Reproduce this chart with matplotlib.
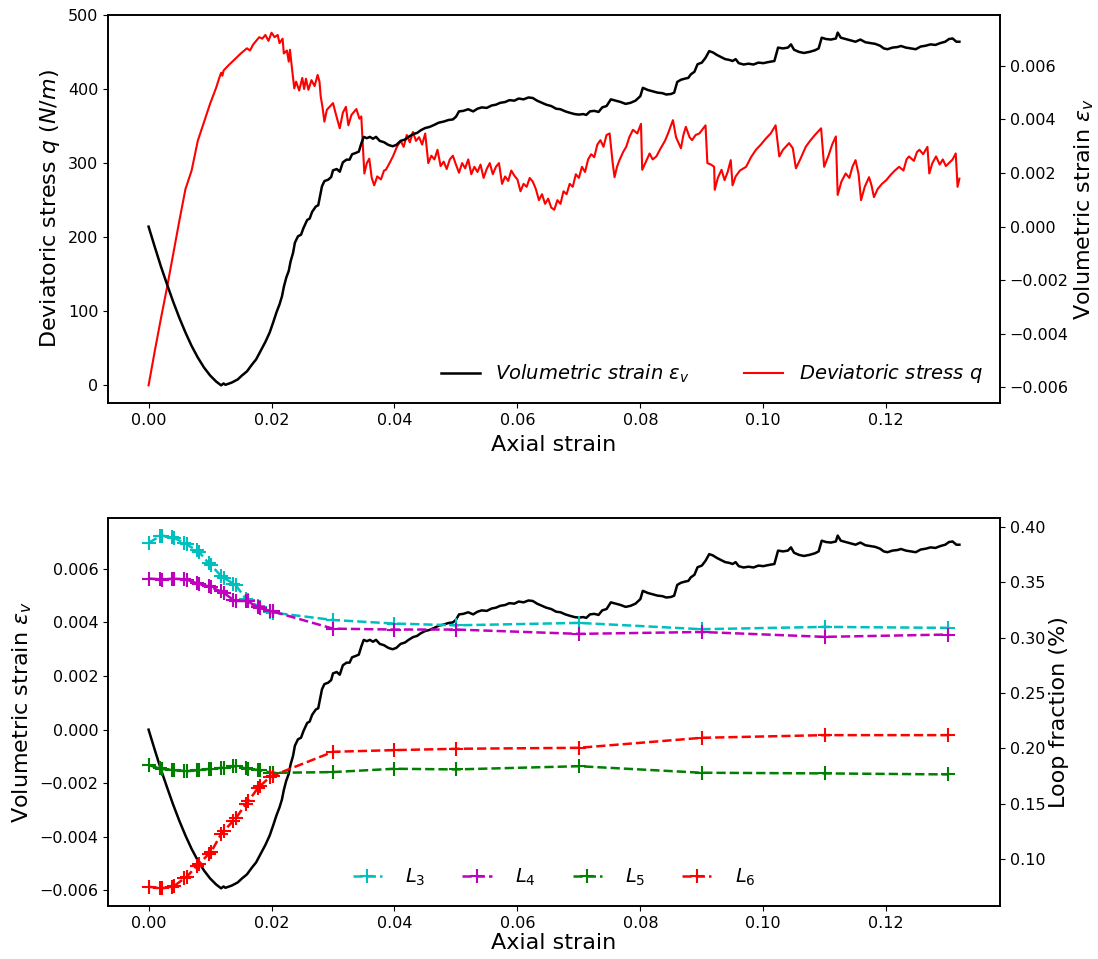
import matplotlib
matplotlib.use("Agg")
import matplotlib.pyplot as plt

# volumetric strain record (axial strain, eps_v)
vol_strain_x = [
    0.0000, 0.0010, 0.0020, 0.0030, 0.0040, 0.0050, 0.0060, 0.0070, 0.0080, 0.0090,
    0.0100, 0.0110, 0.0118, 0.0122, 0.0125, 0.0135, 0.0145, 0.0152, 0.0160, 0.0168,
    0.0175, 0.0182, 0.0190, 0.0197, 0.0203, 0.0208, 0.0213, 0.0217, 0.0220, 0.0224,
    0.0228, 0.0231, 0.0235, 0.0238, 0.0243, 0.0248, 0.0252, 0.0258, 0.0262, 0.0266,
    0.0272, 0.0276, 0.0279, 0.0282, 0.0286, 0.0292, 0.0297, 0.0300, 0.0306, 0.0311,
    0.0316, 0.0322, 0.0327, 0.0331, 0.0337, 0.0342, 0.0346, 0.0350, 0.0355, 0.0360,
    0.0365, 0.0370, 0.0376, 0.0383, 0.0390, 0.0397, 0.0403, 0.0410, 0.0417, 0.0423,
    0.0430, 0.0437, 0.0443, 0.0450, 0.0457, 0.0465, 0.0472, 0.0480, 0.0488, 0.0495,
    0.0500, 0.0505, 0.0512, 0.0520, 0.0528, 0.0535, 0.0542, 0.0550, 0.0558, 0.0565,
    0.0572, 0.0580, 0.0587, 0.0595, 0.0602, 0.0610, 0.0618, 0.0625, 0.0632, 0.0640,
    0.0647, 0.0655, 0.0663, 0.0670, 0.0678, 0.0685, 0.0693, 0.0700, 0.0707, 0.0712,
    0.0718, 0.0725, 0.0732, 0.0738, 0.0745, 0.0752, 0.0760, 0.0768, 0.0776, 0.0784,
    0.0792, 0.0800, 0.0804, 0.0812, 0.0820, 0.0828, 0.0836, 0.0842, 0.0850, 0.0855,
    0.0860, 0.0866, 0.0872, 0.0878, 0.0882, 0.0888, 0.0893, 0.0900, 0.0906, 0.0912,
    0.0918, 0.0925, 0.0932, 0.0938, 0.0945, 0.0950, 0.0955, 0.0960, 0.0968, 0.0976,
    0.0984, 0.0992, 0.1000, 0.1008, 0.1018, 0.1024, 0.1032, 0.1040, 0.1045, 0.1050,
    0.1058, 0.1066, 0.1075, 0.1084, 0.1090, 0.1095, 0.1102, 0.1110, 0.1118, 0.1121,
    0.1126, 0.1134, 0.1142, 0.1150, 0.1158, 0.1166, 0.1174, 0.1182, 0.1190, 0.1196,
    0.1202, 0.1210, 0.1218, 0.1224, 0.1232, 0.1240, 0.1248, 0.1256, 0.1264, 0.1272,
    0.1280, 0.1288, 0.1296, 0.1302, 0.1308, 0.1314, 0.1319,
]
vol_strain = [
    0.00000, -0.00075, -0.00148, -0.00215, -0.00280, -0.00340, -0.00395, -0.00445, -0.00488, -0.00525,
    -0.00555, -0.00578, -0.00592, -0.00585, -0.00590, -0.00582, -0.00570, -0.00555, -0.00540, -0.00515,
    -0.00495, -0.00465, -0.00430, -0.00395, -0.00355, -0.00320, -0.00290, -0.00260, -0.00225, -0.00190,
    -0.00165, -0.00130, -0.00098, -0.00060, -0.00036, -0.00030, -0.00005, 0.00025, 0.00030, 0.00055,
    0.00075, 0.00080, 0.00115, 0.00150, 0.00170, 0.00175, 0.00185, 0.00210, 0.00215, 0.00205,
    0.00240, 0.00250, 0.00250, 0.00270, 0.00275, 0.00280, 0.00310, 0.00335, 0.00330, 0.00335,
    0.00328, 0.00335, 0.00320, 0.00315, 0.00305, 0.00300, 0.00305, 0.00320, 0.00325, 0.00335,
    0.00345, 0.00350, 0.00360, 0.00368, 0.00372, 0.00380, 0.00388, 0.00392, 0.00398, 0.00400,
    0.00410, 0.00430, 0.00432, 0.00438, 0.00430, 0.00440, 0.00445, 0.00443, 0.00452, 0.00455,
    0.00462, 0.00465, 0.00472, 0.00470, 0.00478, 0.00475, 0.00482, 0.00480, 0.00470, 0.00462,
    0.00455, 0.00450, 0.00440, 0.00438, 0.00430, 0.00425, 0.00420, 0.00418, 0.00420, 0.00417,
    0.00430, 0.00432, 0.00428, 0.00445, 0.00450, 0.00475, 0.00470, 0.00465, 0.00458, 0.00462,
    0.00470, 0.00487, 0.00518, 0.00510, 0.00505, 0.00500, 0.00498, 0.00493, 0.00495, 0.00500,
    0.00540, 0.00548, 0.00552, 0.00555, 0.00568, 0.00578, 0.00606, 0.00612, 0.00630, 0.00655,
    0.00650, 0.00640, 0.00632, 0.00625, 0.00622, 0.00618, 0.00625, 0.00610, 0.00605, 0.00608,
    0.00605, 0.00612, 0.00610, 0.00614, 0.00618, 0.00668, 0.00665, 0.00668, 0.00680, 0.00660,
    0.00652, 0.00648, 0.00652, 0.00658, 0.00665, 0.00705, 0.00700, 0.00698, 0.00702, 0.00724,
    0.00705, 0.00700, 0.00695, 0.00690, 0.00698, 0.00688, 0.00685, 0.00682, 0.00675, 0.00665,
    0.00662, 0.00668, 0.00670, 0.00674, 0.00668, 0.00665, 0.00662, 0.00672, 0.00675, 0.00680,
    0.00678, 0.00685, 0.00690, 0.00700, 0.00702, 0.00690, 0.00690,
]

# deviatoric stress record (axial strain, q in N/m)
dev_stress_x = [
    0.0000, 0.0010, 0.0020, 0.0030, 0.0040, 0.0050, 0.0060, 0.0070, 0.0080, 0.0090,
    0.0100, 0.0110, 0.0115, 0.0118, 0.0120, 0.0122, 0.0130, 0.0140, 0.0150, 0.0160,
    0.0165, 0.0170, 0.0175, 0.0180, 0.0185, 0.0190, 0.0195, 0.0200, 0.0205, 0.0210,
    0.0213, 0.0218, 0.0220, 0.0225, 0.0228, 0.0230, 0.0233, 0.0237, 0.0240, 0.0245,
    0.0250, 0.0253, 0.0256, 0.0260, 0.0265, 0.0270, 0.0275, 0.0278, 0.0280, 0.0283,
    0.0286, 0.0290, 0.0300, 0.0305, 0.0311, 0.0316, 0.0321, 0.0325, 0.0330, 0.0338,
    0.0343, 0.0346, 0.0351, 0.0355, 0.0359, 0.0363, 0.0367, 0.0372, 0.0378, 0.0383,
    0.0386, 0.0392, 0.0398, 0.0404, 0.0410, 0.0415, 0.0420, 0.0425, 0.0430, 0.0435,
    0.0440, 0.0445, 0.0450, 0.0455, 0.0460, 0.0465, 0.0470, 0.0475, 0.0480, 0.0485,
    0.0490, 0.0495, 0.0500, 0.0505, 0.0510, 0.0515, 0.0520, 0.0525, 0.0530, 0.0535,
    0.0540, 0.0545, 0.0550, 0.0555, 0.0560, 0.0565, 0.0570, 0.0575, 0.0580, 0.0585,
    0.0590, 0.0595, 0.0600, 0.0605, 0.0610, 0.0615, 0.0620, 0.0625, 0.0630, 0.0635,
    0.0640, 0.0645, 0.0650, 0.0655, 0.0660, 0.0665, 0.0670, 0.0675, 0.0680, 0.0685,
    0.0690, 0.0695, 0.0700, 0.0705, 0.0710, 0.0715, 0.0720, 0.0725, 0.0730, 0.0735,
    0.0740, 0.0745, 0.0750, 0.0755, 0.0758, 0.0762, 0.0766, 0.0772, 0.0777, 0.0782,
    0.0788, 0.0795, 0.0801, 0.0803, 0.0808, 0.0815, 0.0820, 0.0826, 0.0833, 0.0840,
    0.0845, 0.0853, 0.0858, 0.0866, 0.0870, 0.0874, 0.0880, 0.0884, 0.0890, 0.0896,
    0.0906, 0.0909, 0.0915, 0.0920, 0.0921, 0.0926, 0.0932, 0.0937, 0.0942, 0.0947,
    0.0950, 0.0955, 0.0962, 0.0972, 0.0980, 0.0988, 0.0996, 0.1004, 0.1012, 0.1020,
    0.1026, 0.1032, 0.1042, 0.1048, 0.1053, 0.1060, 0.1069, 0.1076, 0.1084, 0.1094,
    0.1099, 0.1106, 0.1112, 0.1118, 0.1121, 0.1127, 0.1134, 0.1140, 0.1145, 0.1150,
    0.1155, 0.1159, 0.1165, 0.1172, 0.1176, 0.1180, 0.1186, 0.1193, 0.1200, 0.1207,
    0.1214, 0.1221, 0.1228, 0.1233, 0.1237, 0.1245, 0.1250, 0.1254, 0.1260, 0.1267,
    0.1270, 0.1275, 0.1281, 0.1287, 0.1292, 0.1297, 0.1302, 0.1308, 0.1313, 0.1316,
    0.1319,
]
dev_stress = [
    0, 46, 90, 132, 177, 222, 265, 290, 330, 355,
    380, 402, 415, 422, 418, 425, 432, 440, 448, 455,
    452, 460, 465, 470, 468, 473, 465, 476, 470, 473,
    462, 468, 448, 452, 437, 453, 430, 401, 410, 398,
    415, 400, 414, 399, 412, 404, 419, 410, 390, 375,
    356, 372, 381, 365, 347, 368, 376, 351, 365, 373,
    360, 363, 286, 300, 306, 280, 270, 282, 278, 290,
    291, 300, 310, 322, 330, 322, 338, 328, 342, 330,
    335, 325, 340, 300, 310, 305, 318, 296, 302, 292,
    305, 310, 298, 287, 300, 293, 305, 285, 295, 288,
    298, 280, 292, 300, 285, 295, 300, 272, 282, 276,
    290, 283, 278, 262, 272, 268, 280, 275, 265, 250,
    258, 245, 252, 240, 237, 250, 245, 262, 258, 272,
    268, 285, 280, 295, 288, 305, 312, 308, 325, 331,
    322, 338, 340, 300, 281, 295, 304, 315, 322, 335,
    345, 340, 353, 291, 300, 313, 305, 309, 320, 330,
    340, 358, 335, 320, 338, 349, 335, 331, 338, 340,
    351, 300, 298, 295, 264, 280, 291, 277, 288, 304,
    270, 282, 290, 295, 308, 318, 325, 333, 340, 351,
    309, 318, 327, 320, 293, 305, 322, 330, 338, 347,
    295, 310, 325, 336, 257, 275, 286, 280, 295, 304,
    285, 250, 268, 281, 270, 254, 265, 272, 277, 284,
    290, 295, 290, 305, 309, 303, 315, 318, 312, 322,
    286, 300, 309, 298, 305, 296, 300, 305, 313, 268,
    279,
]

# loop fractions sampled along the test
loop_x = [
    0.0000, 0.0018, 0.0022, 0.0038, 0.0042, 0.0058, 0.0062, 0.0078, 0.0082, 0.0098,
    0.0102, 0.0118, 0.0122, 0.0138, 0.0142, 0.0158, 0.0162, 0.0178, 0.0182, 0.0198,
    0.0202, 0.03, 0.04, 0.05, 0.07, 0.09, 0.11, 0.13,
]
loop_L3 = [
    0.3853, 0.3912, 0.3919, 0.3902, 0.3898, 0.3850, 0.3840, 0.3785, 0.3772, 0.3668,
    0.3650, 0.3555, 0.3540, 0.3485, 0.3470, 0.3350, 0.3335, 0.3282, 0.3272, 0.3232,
    0.3225, 0.3158, 0.3126, 0.3110, 0.3132, 0.3075, 0.3096, 0.3087,
]
loop_L4 = [
    0.3532, 0.3525, 0.3522, 0.3530, 0.3530, 0.3525, 0.3522, 0.3490, 0.3480, 0.3462,
    0.3452, 0.3415, 0.3402, 0.3340, 0.3330, 0.3330, 0.3325, 0.3272, 0.3264, 0.3240,
    0.3235, 0.3080, 0.3072, 0.3072, 0.3033, 0.3050, 0.3006, 0.3027,
]
loop_L5 = [
    0.1850, 0.1820, 0.1815, 0.1806, 0.1804, 0.1797, 0.1795, 0.1803, 0.1806, 0.1815,
    0.1818, 0.1824, 0.1827, 0.1838, 0.1840, 0.1820, 0.1815, 0.1807, 0.1803, 0.1783,
    0.1780, 0.1787, 0.1817, 0.1811, 0.1840, 0.1781, 0.1775, 0.1766,
]
loop_L6 = [
    0.0754, 0.0740, 0.0739, 0.0755, 0.0762, 0.0828, 0.0842, 0.0940, 0.0958, 0.1050,
    0.1070, 0.1228, 0.1252, 0.1350, 0.1370, 0.1500, 0.1522, 0.1645, 0.1665, 0.1745,
    0.1755, 0.1970, 0.1985, 0.1997, 0.2006, 0.2096, 0.2120, 0.2120,
]
loop_labels = ['$L_3$', '$L_4$', '$L_5$', '$L_6$']
loop_colors = ['c', 'm', 'g', 'r']

plt.rcParams['font.family'] = 'DejaVu Sans'
plt.rcParams['axes.linewidth'] = 1.2

fig = plt.figure(figsize=(10.98, 9.59), dpi=100)
ax1 = fig.add_axes([0.0984, 0.5798, 0.8123, 0.4046])
ax3 = fig.add_axes([0.0984, 0.0553, 0.8123, 0.4046])

tick_fs = 11.5
label_fs = 16

# upper panel: deviatoric stress (left) and volumetric strain (right)
ax2 = ax1.twinx()
red_line, = ax1.plot(dev_stress_x, dev_stress, color='r', lw=1.5,
                     label='Deviatoric stress $q$')
black_line, = ax2.plot(vol_strain_x, vol_strain, color='k', lw=1.8,
                       label=r'Volumetric strain $\epsilon_v$')
ax1.set_ylabel('Deviatoric stress $q\\ (N/m)$', fontsize=label_fs)
ax2.set_ylabel(r'Volumetric strain $\epsilon_v$', fontsize=label_fs, labelpad=3)
ax1.set_xlabel('Axial strain', fontsize=label_fs, labelpad=5)
ax1.set_yticks([0, 100, 200, 300, 400, 500])
ax2.set_yticks([-0.006, -0.004, -0.002, 0.0, 0.002, 0.004, 0.006])
ax1.set_xticks([0.0, 0.02, 0.04, 0.06, 0.08, 0.10, 0.12])
for ax in (ax1, ax2):
    ax.tick_params(labelsize=tick_fs)
ax2.legend(handles=[black_line, red_line], loc='lower right', ncol=2,
           frameon=False, prop={'style': 'italic', 'size': 14},
           columnspacing=2.8)

# lower panel: volumetric strain (left) and loop fractions (right)
ax4 = ax3.twinx()
ax3.plot(vol_strain_x, vol_strain, color='k', lw=1.8)
loop_handles = []
for vals, lab, col in zip([loop_L3, loop_L4, loop_L5, loop_L6], loop_labels, loop_colors):
    h, = ax4.plot(loop_x, vals, color=col, ls='--', lw=1.8, marker='+',
                  markersize=10, markeredgewidth=1.5, label=lab)
    loop_handles.append(h)
ax3.set_ylabel(r'Volumetric strain $\epsilon_v$', fontsize=label_fs)
ax4.set_ylabel('Loop fraction (%)', fontsize=label_fs, labelpad=3)
ax3.set_xlabel('Axial strain', fontsize=label_fs, labelpad=2)
ax3.set_yticks([-0.006, -0.004, -0.002, 0.0, 0.002, 0.004, 0.006])
ax4.set_yticks([0.10, 0.15, 0.20, 0.25, 0.30, 0.35, 0.40])
ax3.set_xticks([0.0, 0.02, 0.04, 0.06, 0.08, 0.10, 0.12])
for ax in (ax3, ax4):
    ax.tick_params(labelsize=tick_fs)
ax4.legend(handles=loop_handles, loc='lower center', ncol=4, frameon=False,
           fontsize=14, handlelength=1.5, handletextpad=1.2, columnspacing=1.9)

fig.savefig('out.png', dpi=100)
